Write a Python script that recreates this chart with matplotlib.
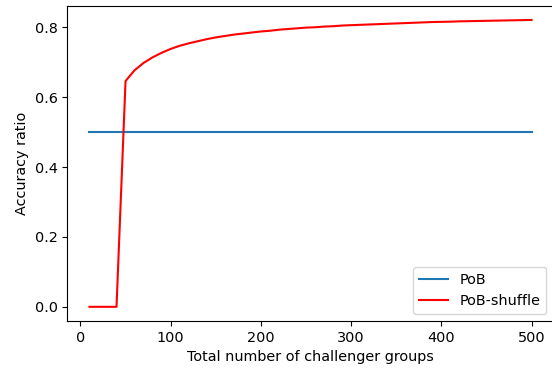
import matplotlib
matplotlib.use("Agg")
import matplotlib.pyplot as plt

plt.rcParams["font.size"] = 10.4

# total number of challenger groups
groups = list(range(10, 510, 10))

pob = [0.5] * len(groups)

pob_shuffle = [
    0.0, 0.0, 0.0, 0.0, 0.646, 0.677, 0.698, 0.714, 0.727, 0.738,
    0.747, 0.754, 0.760, 0.766, 0.771, 0.775, 0.779, 0.782, 0.785, 0.788,
    0.790, 0.793, 0.795, 0.797, 0.799, 0.800, 0.802, 0.803, 0.805, 0.806,
    0.807, 0.808, 0.809, 0.810, 0.811, 0.812, 0.813, 0.814, 0.815, 0.8155,
    0.816, 0.817, 0.8175, 0.818, 0.8185, 0.819, 0.8195, 0.820, 0.8205, 0.821,
]

fig, ax = plt.subplots(figsize=(5.52, 3.73), dpi=100)
ax.plot(groups, pob, label="PoB")
ax.plot(groups, pob_shuffle, color="red", label="PoB-shuffle")
ax.set_xlabel("Total number of challenger groups")
ax.set_ylabel("Accuracy ratio")
ax.legend(loc="lower right")
fig.subplots_adjust(left=0.122, right=1.003, top=0.985, bottom=0.139)
fig.savefig("out.png")
